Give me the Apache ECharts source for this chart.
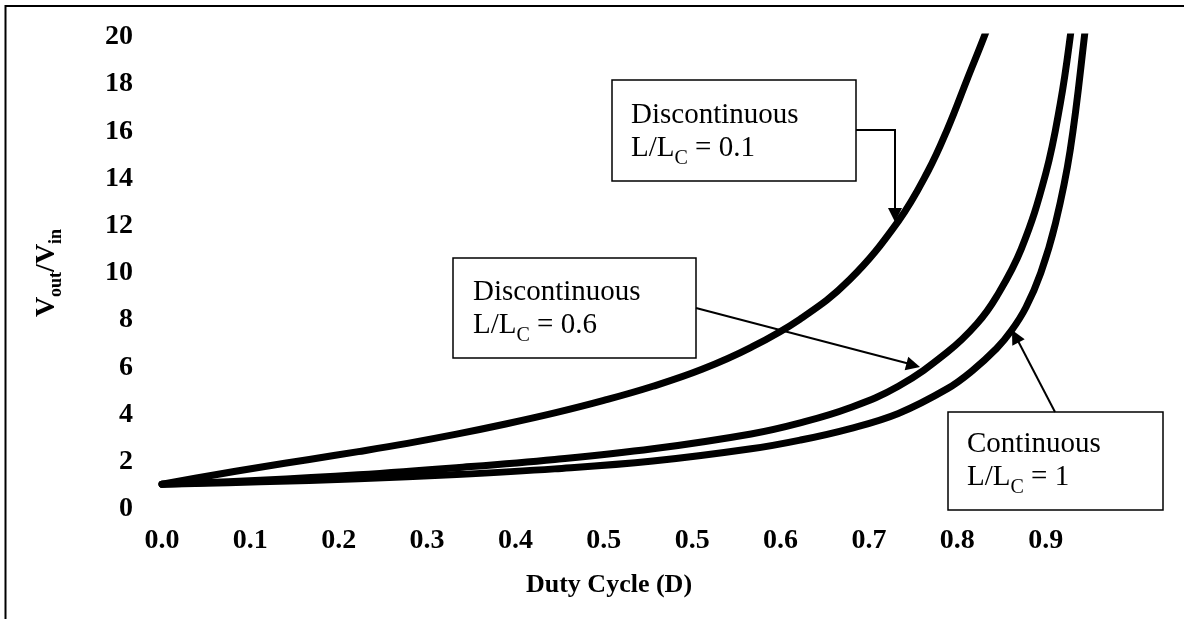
<!DOCTYPE html>
<html>
<head>
<meta charset="utf-8">
<script src="https://cdn.jsdelivr.net/npm/echarts@6/dist/echarts.min.js"></script>
<style>
  html, body { margin: 0; padding: 0; background: #fff; }
  #chart { width: 1184px; height: 619px; }
</style>
</head>
<body>
<div id="chart"></div>
<script>
// tick labels under the x axis (one every 0.09, shown with one decimal)
var xTickLabels = ['0.0', '0.1', '0.2', '0.3', '0.4', '0.5', '0.5', '0.6', '0.7', '0.8', '0.9']

// [duty cycle, Vout/Vin]
var discont01 = [
  [0, 1.05], [0.05, 1.42], [0.1, 1.77], [0.15, 2.1], [0.2, 2.43], [0.25, 2.78],
  [0.3, 3.17], [0.35, 3.6], [0.4, 4.07], [0.45, 4.6], [0.5, 5.2], [0.55, 5.92],
  [0.6, 6.85], [0.65, 8.05], [0.7, 9.7], [0.75, 12.2], [0.78, 14.3], [0.8, 16.1],
  [0.82, 18.2], [0.84, 20.3], [0.86, 22.6]
]
var discont06 = [
  [0, 1.05], [0.1, 1.22], [0.2, 1.45], [0.3, 1.75], [0.4, 2.1],
  [0.5, 2.55], [0.6, 3.18], [0.65, 3.65], [0.7, 4.28], [0.75, 5.2], [0.8, 6.65],
  [0.83, 7.85], [0.85, 9.0], [0.875, 11.0], [0.9, 14.2], [0.915, 17.2],
  [0.925, 20.0], [0.935, 23.5]
]
var continuous = [
  [0, 1.05], [0.1, 1.15], [0.2, 1.28], [0.3, 1.46], [0.4, 1.7],
  [0.5, 2.03], [0.6, 2.55], [0.65, 2.92], [0.7, 3.4], [0.75, 4.05],
  [0.8, 5.1], [0.825, 5.85], [0.85, 6.8], [0.865, 7.55], [0.88, 8.55], [0.895, 10.0],
  [0.91, 12.1], [0.925, 15.2], [0.94, 20.2], [0.95, 24.0]
]

var serif = '"Liberation Serif", "Times New Roman", serif'

var boxRich = {
  m: { fontFamily: serif, fontSize: 29, lineHeight: 33, fill: '#000' },
  s: { fontFamily: serif, fontSize: 20, lineHeight: 4, height: 13, verticalAlign: 'bottom', fill: '#000' }
}

function curve(data) {
  return {
    type: 'line',
    data: data,
    showSymbol: false,
    smooth: 0.4,
    silent: true,
    lineStyle: { color: '#000', width: 7, cap: 'round', join: 'round' }
  }
}

function head(fx, fy, tx, ty) {
  var a = Math.atan2(ty - fy, tx - fx)
  var len = 14, half = 7
  var bx = tx - len * Math.cos(a), by = ty - len * Math.sin(a)
  return {
    type: 'polygon',
    silent: true,
    shape: { points: [[tx, ty], [bx + half * Math.sin(a), by - half * Math.cos(a)], [bx - half * Math.sin(a), by + half * Math.cos(a)]] },
    style: { fill: '#000' }
  }
}

function label(x, y, text) {
  return {
    type: 'text', x: x, y: y, silent: true,
    style: { text: text, rich: boxRich, align: 'left', verticalAlign: 'top' }
  }
}

function box(x, y, w, h) {
  return {
    type: 'rect', silent: true,
    shape: { x: x, y: y, width: w, height: h },
    style: { fill: '#fff', stroke: '#000', lineWidth: 1.5 }
  }
}

var chart = echarts.init(document.getElementById('chart'))

var option = {
  animation: false,
  backgroundColor: '#fff',
  grid: { left: 162, right: 50, top: 37, bottom: 110, outerBoundsMode: 'none' },
  xAxis: {
    type: 'value',
    min: 0,
    max: 0.99,
    interval: 0.09,
    name: 'Duty Cycle (D)',
    nameLocation: 'middle',
    nameGap: 63,
    nameTextStyle: { fontFamily: serif, fontWeight: 'bold', fontSize: 26, color: '#000', padding: [0, 78, 0, 0] },
    axisLine: { show: false },
    axisTick: { show: false },
    splitLine: { show: false },
    axisLabel: {
      fontFamily: serif, fontWeight: 'bold', fontSize: 28, color: '#000', margin: 18,
      formatter: function (v, i) { return xTickLabels[i] || '' }
    }
  },
  yAxis: {
    type: 'value',
    min: 0,
    max: 20,
    interval: 2,
    name: '{v|V}{s|out}{v|/V}{s|in}',
    nameLocation: 'middle',
    nameRotate: 90,
    nameGap: 99,
    nameTextStyle: {
      rich: {
        v: { fontFamily: serif, fontWeight: 'bold', fontSize: 28, lineHeight: 32, color: '#000' },
        s: { fontFamily: serif, fontWeight: 'bold', fontSize: 18, lineHeight: 8, height: 13, verticalAlign: 'bottom', color: '#000' }
      }
    },
    axisLine: { show: false },
    axisTick: { show: false },
    splitLine: { show: false },
    axisLabel: { fontFamily: serif, fontWeight: 'bold', fontSize: 28, color: '#000', margin: 29 }
  },
  series: [curve(discont01), curve(discont06), curve(continuous)],
  graphic: [
    // page frame
    { type: 'polyline', silent: true, shape: { points: [[5.5, 619], [5.5, 6], [1184, 6]] }, style: { stroke: '#000', lineWidth: 2, fill: null } },

    // L/Lc = 0.1
    box(612, 80, 244, 101),
    label(631, 99, '{m|Discontinuous}\n{m|L/L}{s|C}{m| = 0.1}'),
    { type: 'polyline', silent: true, shape: { points: [[856, 130], [895, 130], [895, 210]] }, style: { stroke: '#000', lineWidth: 2, fill: null } },
    head(895, 130, 895, 222),

    // L/Lc = 0.6
    box(453, 258, 243, 100),
    label(473, 276, '{m|Discontinuous}\n{m|L/L}{s|C}{m| = 0.6}'),
    { type: 'line', silent: true, shape: { x1: 696, y1: 308, x2: 910, y2: 364 }, style: { stroke: '#000', lineWidth: 2 } },
    head(696, 308, 920, 367),

    // continuous
    box(948, 412, 215, 98),
    label(967, 428, '{m|Continuous}\n{m|L/L}{s|C}{m| = 1}'),
    { type: 'line', silent: true, shape: { x1: 1055, y1: 412, x2: 1017, y2: 339 }, style: { stroke: '#000', lineWidth: 2 } },
    head(1055, 412, 1012, 330)
  ]
}

chart.setOption(option)
</script>
</body>
</html>
